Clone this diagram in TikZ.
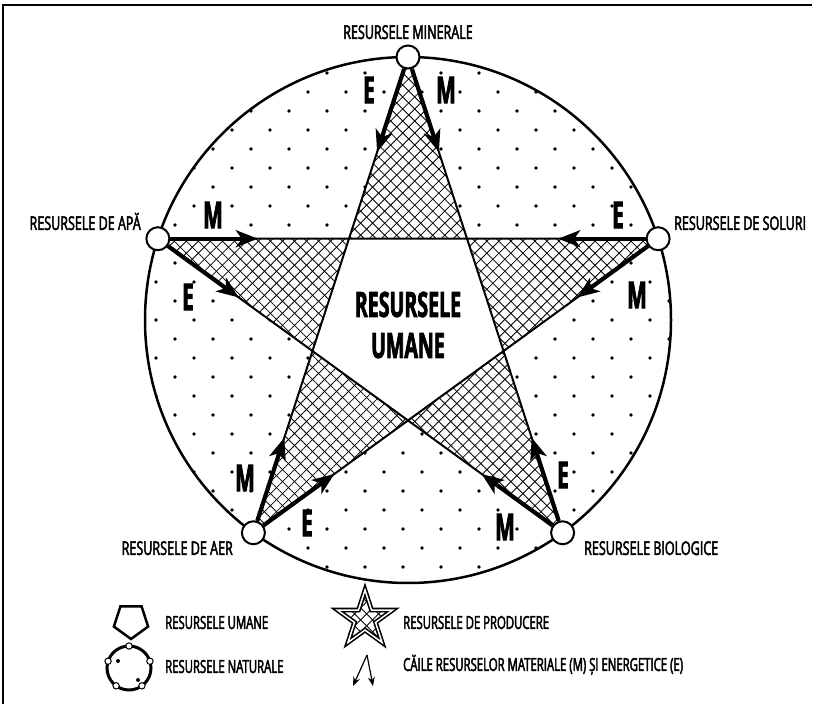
\documentclass[tikz,border=0pt]{standalone}
\usepackage{fontspec}
\setmainfont{Open Sans}
\newfontfamily\labfont[FakeStretch=0.66,FakeBold=2.5]{Open Sans}
\newfontfamily\legfont[FakeStretch=0.63,FakeBold=2.5]{Open Sans}
\newfontfamily\condfont[FakeStretch=0.56,FakeBold=2]{Open Sans}
\usetikzlibrary{arrows.meta,calc,positioning,patterns.meta,shapes.geometric}
\tikzset{
  res/.style={circle,draw,fill=white,line width=2pt,minimum size=23pt,inner sep=0pt},
  flow/.style={line width=4.2pt,-{Stealth[length=22pt,width=17pt,inset=6pt]}},
  kflow/.style={line width=1.2pt,-{Stealth[length=9pt,width=7pt,inset=3pt]}},
  starline/.style={line width=2pt},
  lab/.style={inner sep=0pt,font=\labfont\fontsize{19}{22}\selectfont},
  legtext/.style={inner sep=0pt,anchor=base west,font=\legfont\fontsize{18}{20}\selectfont},
  tag/.style={inner sep=0pt,font=\condfont\bfseries\fontsize{37}{40}\selectfont},
  hatch/.style={pattern={Lines[angle=45,distance=8.5pt,line width=0.8pt]}},
  hatchb/.style={pattern={Lines[angle=-45,distance=8.5pt,line width=0.8pt]}},
}
\begin{document}
\begin{tikzpicture}[x=1pt,y=1pt]
\useasboundingbox (0,0) rectangle (814,704);
% frame
\draw[line width=2pt] (3,0) -- (3,699) -- (812,699);
% points of the star
\coordinate (c) at (408,384);
\coordinate (pm) at ($(c)+(90:263)$);
\coordinate (ps) at ($(c)+(18:263)$);
\coordinate (pb) at ($(c)+(-54:263)$);
\coordinate (pa) at ($(c)+(-126:263)$);
\coordinate (pp) at ($(c)+(162:263)$);
\foreach \n/\a in {1/54,2/-18,3/-90,4/-162,5/126}
  \coordinate (i\n) at ($(c)+(\a:100.5)$);
% natural resources: dots
\begin{scope}
  \clip (c) circle (263);
  \foreach \k in {-19,...,9}
    \foreach \j in {0,...,19}{
      \pgfmathsetmacro\xx{-15+38*\j+19*mod(abs(\k),2)}
      \fill ({\xx},{289-19*\k}) circle (1.9);
    }
\end{scope}
% production resources: hatched star
\fill[white] (pm) -- (i1) -- (ps) -- (i2) -- (pb) -- (i3) -- (pa) -- (i4) -- (pp) -- (i5) -- cycle;
\path[hatch] (pm) -- (i1) -- (ps) -- (i2) -- (pb) -- (i3) -- (pa) -- (i4) -- (pp) -- (i5) -- cycle;
\path[hatchb] (pm) -- (i1) -- (ps) -- (i2) -- (pb) -- (i3) -- (pa) -- (i4) -- (pp) -- (i5) -- cycle;
\fill[white] (i1) -- (i2) -- (i3) -- (i4) -- (i5) -- cycle;
\draw[line width=2.5pt] (c) circle (263);
% resource nodes
\node[res] (m) at (pm) {};
\node[res] (s) at (ps) {};
\node[res] (b) at (pb) {};
\node[res] (a) at (pa) {};
\node[res] (p) at (pp) {};
\draw[starline] (m) -- (a) (m) -- (b) (p) -- (s) (p) -- (b) (s) -- (a);
% flows
\foreach \f/\t in {m/a,m/b,p/s,p/b,s/p,s/a,a/m,a/s,b/m,b/p}
  \draw[flow] (\f) -- ($(\f)!100pt!(\t)$);
\foreach \x/\y/\t in {369/614/E,446/614/M,213/489/M,188/407/E,618/489/E,637/409/M,245/226/M,307/181/E,563/229/E,505/177/M}
  \node[tag] (t\x) at (\x,\y) {\t};
\node[tag,align=center,font=\condfont\bfseries\fontsize{35}{41}\selectfont] (um) at (408,379) {RESURSELE\\UMANE};
% labels
\node[lab,anchor=base] (lm) at (408,665) {RESURSELE MINERALE};
\node[lab,anchor=base east] (lp) at (141,474) {RESURSELE DE APĂ};
\node[lab,anchor=base west] (ls) at (674,474) {RESURSELE DE SOLURI};
\node[lab,anchor=base east] (la) at (233,149) {RESURSELE DE AER};
\node[lab,anchor=base west] (lb) at (584,149) {RESURSELE BIOLOGICE};
% legend
\node[draw,regular polygon,regular polygon sides=5,shape border rotate=180,minimum size=36pt,inner sep=0pt,line width=2.5pt] (kum) at (131,83) {};
\coordinate (kc) at (129,36);
\draw[line width=3pt] (kc) circle (22);
\foreach \a in {90,18,-54,-126,162}
  \draw[fill=white,line width=1pt] ($(kc)+(\a:22)$) circle (3.2);
\fill (118,43) circle (2);
\fill (138,24) circle (2);
\node[star,star points=5,star point ratio=2.618,minimum size=58pt,inner sep=0pt,draw,line width=1.6pt,double,double distance=1.5pt,hatch,preaction={hatchb}] (kst) at (365,85) {};
\coordinate (kt) at (367,49);
\coordinate (kl) at (353,18);
\coordinate (kr) at (373,18);
\draw[kflow] (kt) -- (kl);
\draw[kflow] (kt) -- (kr);
\node[legtext] (tum) at (165,75) {RESURSELE UMANE};
\node[legtext] (tnat) at (165,31) {RESURSELE NATURALE};
\node[legtext] (tprod) at (403,75) {RESURSELE DE PRODUCERE};
\node[legtext] (tcai) at (403,33) {CĂILE RESURSELOR MATERIALE (M) ȘI ENERGETICE (E)};
\end{tikzpicture}
\end{document}
